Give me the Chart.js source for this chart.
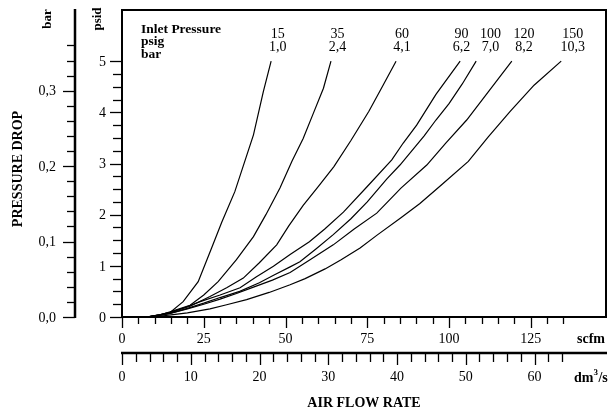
<!DOCTYPE html>
<html>
<head>
<meta charset="utf-8">
<script src="https://cdn.jsdelivr.net/npm/chart.js@4.4.1/dist/chart.umd.min.js"></script>
<style>
  html, body { margin: 0; padding: 0; background: #fff; }
</style>
</head>
<body>
<canvas id="chart" width="610" height="415"></canvas>
<script>
// air flow (scfm) vs pressure drop (psid), one pair per inlet pressure
const flow15 = [7.5, 11.5, 14.7, 18.7, 23.3, 27.4, 30.5, 34.5, 40.2, 43.2, 45.6];
const drop15 = [0, 0.04, 0.09, 0.30, 0.69, 1.35, 1.85, 2.45, 3.56, 4.40, 5.0];

const flow35 = [7.5, 11.5, 14.7, 20.8, 25, 29.4, 35, 40.2, 44, 48.3, 52, 55.4, 58.5, 61.6, 63.9];
const drop35 = [0, 0.04, 0.10, 0.23, 0.43, 0.69, 1.12, 1.57, 2.0, 2.52, 3.05, 3.49, 3.98, 4.47, 5.0];

const flow60 = [7.5, 11.5, 14.7, 20.8, 26.9, 32, 37.1, 42, 47.3, 51, 55.4, 60, 64.8, 70, 75.5, 80, 83.8];
const drop60 = [0, 0.04, 0.09, 0.21, 0.40, 0.57, 0.76, 1.06, 1.41, 1.78, 2.18, 2.55, 2.94, 3.45, 4.02, 4.55, 5.0];

const flow90 = [7.5, 11.5, 14.7, 19, 23.9, 30, 36.1, 41, 46.3, 51.4, 57.3, 62, 67.7, 75, 82.5, 86, 90.1, 96, 103.4];
const drop90 = [0, 0.04, 0.08, 0.18, 0.30, 0.43, 0.57, 0.78, 0.99, 1.22, 1.47, 1.72, 2.05, 2.55, 3.07, 3.40, 3.75, 4.35, 5.0];

const flow100 = [7.5, 11.5, 14.7, 20, 25, 30, 36, 42, 46.5, 51.4, 54.4, 59.3, 64.6, 70, 75, 81, 85, 92.4, 96, 100, 104, 108.3];
const drop100 = [0, 0.03, 0.07, 0.17, 0.27, 0.38, 0.50, 0.67, 0.82, 0.98, 1.08, 1.33, 1.61, 1.92, 2.25, 2.70, 2.97, 3.54, 3.85, 4.17, 4.55, 5.0];

const flow120 = [7.5, 11.5, 14.7, 20, 25, 30, 35, 40, 46, 51.4, 57.5, 64.6, 71, 77.9, 85.3, 93.2, 99, 105.4, 112, 119.2];
const drop120 = [0, 0.03, 0.07, 0.16, 0.25, 0.35, 0.46, 0.58, 0.72, 0.87, 1.12, 1.41, 1.72, 2.03, 2.52, 2.97, 3.40, 3.85, 4.40, 5.0];

const flow150 = [7.5, 12, 15, 20, 26.9, 32, 38.1, 45, 51.4, 56, 62.1, 67, 72.8, 78, 85.3, 91.1, 98, 105.9, 112, 118.7, 126, 134.3];
const drop150 = [0, 0.02, 0.04, 0.08, 0.16, 0.24, 0.34, 0.48, 0.63, 0.75, 0.94, 1.12, 1.35, 1.60, 1.94, 2.22, 2.60, 3.04, 3.52, 4.02, 4.53, 5.0];

// inlet pressure labels
const inletPsig = ['15', '35', '60', '90', '100', '120', '150'];
const inletBar = ['1,0', '2,4', '4,1', '6,2', '7,0', '8,2', '10,3'];

// tick labels
const psidTicks = [0, 1, 2, 3, 4, 5];
const barTicks = [0, 0.1, 0.2, 0.3];
const scfmTicks = [0, 25, 50, 75, 100, 125];
const dmTicks = [0, 10, 20, 30, 40, 50, 60];

const flows = [flow15, flow35, flow60, flow90, flow100, flow120, flow150];
const drops = [drop15, drop35, drop60, drop90, drop100, drop120, drop150];

// where the inlet labels sit, in scfm
const labelAt = [47.6, 65.9, 85.6, 103.8, 112.7, 122.9, 137.8];

const serif = '"Liberation Serif", "DejaVu Serif", serif';

const datasets = flows.map(function(fl, i) {
  return {
    label: inletPsig[i] + ' psig',
    data: fl.map((x, j) => ({ x: x, y: drops[i][j] })),
    borderColor: '#000',
    borderWidth: 1.2,
    pointRadius: 0,
    showLine: true,
    tension: 0
  };
});

function comma(v, d) {
  return v.toFixed(d).replace('.', ',');
}

const axesPlugin = {
  id: 'axesPlugin',
  afterDraw(chart) {
    const ctx = chart.ctx;
    const a = chart.chartArea;
    const sx = chart.scales.x, sy = chart.scales.y;
    const sd = chart.scales.x2, sb = chart.scales.yBar;
    ctx.save();
    ctx.strokeStyle = '#000';
    ctx.fillStyle = '#000';

    // frame
    ctx.lineWidth = 2;
    ctx.strokeRect(a.left, a.top, a.right - a.left, a.bottom - a.top);

    ctx.lineWidth = 1.3;
    // psid ticks
    for (let v = 0; v <= 5.001; v += 0.25) {
      const y = Math.round(sy.getPixelForValue(v)) + 0.5;
      const major = Math.abs(v - Math.round(v)) < 0.01;
      ctx.beginPath();
      ctx.moveTo(a.left - (major ? 12 : 9), y);
      ctx.lineTo(a.left, y);
      ctx.stroke();
    }
    ctx.font = '14px ' + serif;
    ctx.textAlign = 'right';
    ctx.textBaseline = 'middle';
    psidTicks.forEach(v => ctx.fillText(String(v), 106, sy.getPixelForValue(v) + 1));

    // bar axis
    const bx = 75;
    ctx.lineWidth = 2.5;
    ctx.beginPath();
    ctx.moveTo(bx, a.top - 1);
    ctx.lineTo(bx, a.bottom + 1);
    ctx.stroke();
    ctx.lineWidth = 1.3;
    for (let k = 0; k <= 18; k++) {
      const v = k * 0.02;
      const y = Math.round(sb.getPixelForValue(v)) + 0.5;
      const major = k % 5 === 0;
      ctx.beginPath();
      ctx.moveTo(bx - (major ? 12 : 8), y);
      ctx.lineTo(bx, y);
      ctx.stroke();
    }
    barTicks.forEach(v => ctx.fillText(comma(v, 1), 56, sb.getPixelForValue(v) + 1));

    // scfm ticks
    ctx.textAlign = 'center';
    for (let v = 0; v <= 135; v += 5) {
      const x = Math.round(sx.getPixelForValue(v)) + 0.5;
      const major = v % 25 === 0;
      ctx.beginPath();
      ctx.moveTo(x, a.bottom);
      ctx.lineTo(x, a.bottom + (major ? 11 : 7));
      ctx.stroke();
    }
    scfmTicks.forEach(v => ctx.fillText(String(v), sx.getPixelForValue(v), a.bottom + 22));

    // dm3/s axis
    const dy = 353;
    ctx.lineWidth = 2.3;
    ctx.beginPath();
    ctx.moveTo(a.left - 1, dy);
    ctx.lineTo(a.right + 1, dy);
    ctx.stroke();
    ctx.lineWidth = 1.3;
    for (let v = 0; v <= 64; v += 2) {
      const x = Math.round(sd.getPixelForValue(v)) + 0.5;
      const major = v % 10 === 0;
      ctx.beginPath();
      ctx.moveTo(x, dy);
      ctx.lineTo(x, dy + (major ? 12 : 9));
      ctx.stroke();
    }
    dmTicks.forEach(v => ctx.fillText(String(v), sd.getPixelForValue(v), 377));

    // units and titles
    ctx.font = 'bold 14px ' + serif;
    ctx.textAlign = 'left';
    ctx.fillText('scfm', 577, a.bottom + 22);
    ctx.fillText('dm', 574, 378);
    const dmW = ctx.measureText('dm').width;
    ctx.font = 'bold 9px ' + serif;
    ctx.fillText('3', 574 + dmW, 373);
    ctx.font = 'bold 14px ' + serif;
    ctx.fillText('/s', 574 + dmW + 5, 378);

    ctx.textAlign = 'center';
    ctx.fillText('AIR FLOW RATE', (a.left + a.right) / 2, 403);

    function vtext(t, x, y) {
      ctx.save();
      ctx.translate(x, y);
      ctx.rotate(-Math.PI / 2);
      ctx.fillText(t, 0, 0);
      ctx.restore();
    }
    vtext('PRESSURE DROP', 18, 169);
    ctx.font = 'bold 13px ' + serif;
    vtext('bar', 48, 19);
    vtext('psid', 98, 19);

    // inlet pressure legend
    ctx.font = 'bold 13.5px ' + serif;
    ctx.textAlign = 'left';
    ctx.textBaseline = 'alphabetic';
    ctx.fillText('Inlet Pressure', 141, 33);
    ctx.fillText('psig', 141, 45);
    ctx.fillText('bar', 141, 58);
    ctx.font = '14px ' + serif;
    ctx.textAlign = 'center';
    inletPsig.forEach(function(t, i) {
      const x = sx.getPixelForValue(labelAt[i]);
      ctx.fillText(t, x, 38);
      ctx.fillText(inletBar[i], x, 51);
    });

    ctx.restore();
  }
};

new Chart(document.getElementById('chart'), {
  type: 'scatter',
  data: { datasets: datasets },
  options: {
    responsive: false,
    animation: false,
    layout: { padding: { left: 122, top: 10, right: 4, bottom: 98 } },
    plugins: {
      legend: { display: false },
      tooltip: { enabled: false }
    },
    scales: {
      x: { type: 'linear', min: 0, max: 148, display: false },
      y: { type: 'linear', min: 0, max: 6, display: false },
      x2: { type: 'linear', axis: 'x', min: 0, max: 70.4, display: false },
      yBar: { type: 'linear', axis: 'y', min: 0, max: 0.407, display: false }
    }
  },
  plugins: [axesPlugin]
});
</script>
</body>
</html>
